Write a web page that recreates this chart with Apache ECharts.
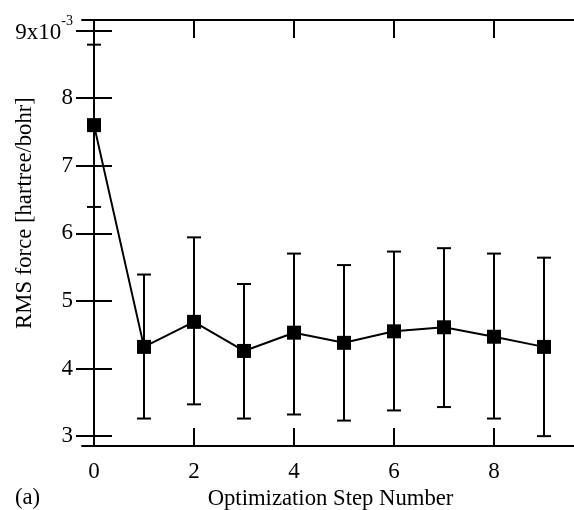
<!DOCTYPE html>
<html>
<head>
<meta charset="utf-8">
<script src="https://cdn.jsdelivr.net/npm/echarts@6/dist/echarts.min.js"></script>
<style>
  html, body { margin: 0; padding: 0; background: #fff; }
  #chart { width: 574px; height: 510px; }
</style>
</head>
<body>
<div id="chart"></div>
<script>
// ---- data ----
const steps   = [0, 1, 2, 3, 4, 5, 6, 7, 8, 9];
const rmsForce = [7.60, 4.32, 4.69, 4.26, 4.53, 4.38, 4.55, 4.61, 4.47, 4.32];
const errHigh  = [8.79, 5.39, 5.94, 5.25, 5.70, 5.53, 5.73, 5.78, 5.70, 5.64];
const errLow   = [6.39, 3.26, 3.47, 3.26, 3.32, 3.23, 3.38, 3.43, 3.26, 3.00];
const xTickValues = [0, 2, 4, 6, 8];
const yTickValues = [3, 4, 5, 6, 7, 8, 9];
const yTopLabelBase = '9x10';
const yTopLabelExp = '-3';
const xTitle = 'Optimization Step Number';
const yTitle = 'RMS force [hartree/bohr]';
const panelLabel = '(a)';

const FONT = '"Liberation Serif", "Times New Roman", serif';
const chart = echarts.init(document.getElementById('chart'), null, { renderer: 'canvas' });

const lineData = steps.map((s, i) => [s, rmsForce[i]]);
const errData = steps.map((s, i) => [s, errLow[i], errHigh[i]]);

const axisLineStyle = { color: '#000', width: 2 };
const tickCommon = { show: true, inside: true, length: 18, lineStyle: { color: '#000', width: 2 } };

const option = {
  animation: false,
  backgroundColor: '#fff',
  grid: { left: 82, right: -5, top: 20, bottom: 64, containLabel: false, outerBoundsMode: 'none' },
  xAxis: [
    {
      type: 'value', position: 'bottom', min: -0.24, max: 9.7,
      axisLine: { show: true, lineStyle: axisLineStyle },
      axisTick: Object.assign({}, tickCommon, { customValues: xTickValues }),
      axisLabel: { show: true, customValues: xTickValues, margin: 14, color: '#000', fontFamily: FONT, fontSize: 23 },
      splitLine: { show: false },
      name: xTitle, nameLocation: 'middle', nameGap: 41.5,
      nameTextStyle: { color: '#000', fontFamily: FONT, fontSize: 22.7 }
    },
    {
      type: 'value', position: 'top', min: -0.24, max: 9.7,
      axisLine: { show: true, lineStyle: axisLineStyle },
      axisTick: Object.assign({}, tickCommon, { customValues: xTickValues }),
      axisLabel: { show: false },
      splitLine: { show: false }
    }
  ],
  yAxis: [
    {
      type: 'value', position: 'left', min: 2.854, max: 9.155,
      axisLine: { show: true, lineStyle: axisLineStyle },
      axisTick: Object.assign({}, tickCommon, { customValues: yTickValues }),
      axisLabel: {
        show: true, customValues: yTickValues, margin: 9, color: '#000',
        fontFamily: FONT, fontSize: 23,
        formatter: function (v) {
          return v === 9 ? '{c|' + yTopLabelBase + '}{b|' + yTopLabelExp + '}' : '{a|' + v + '}';
        },
        rich: {
          a: { fontFamily: FONT, fontSize: 23, color: '#000', lineHeight: 23 },
          c: { fontFamily: FONT, fontSize: 23, color: '#000', lineHeight: 23, padding: [5, 0, 0, 0] },
          b: { fontFamily: FONT, fontSize: 14, color: '#000', lineHeight: 14, padding: [0, 0, 18, 0] }
        }
      },
      splitLine: { show: false }
    },
    {
      type: 'value', position: 'right', min: 2.854, max: 9.155,
      axisLine: { show: true, lineStyle: axisLineStyle },
      axisTick: Object.assign({}, tickCommon, { customValues: yTickValues }),
      axisLabel: { show: false },
      splitLine: { show: false }
    }
  ],
  graphic: [
    {
      type: 'text', x: 25, y: 213, rotation: Math.PI / 2,
      style: { text: yTitle, fill: '#000', font: '22.7px ' + FONT, textAlign: 'center', textVerticalAlign: 'middle' }
    },
    {
      type: 'text', x: 15, y: 498,
      style: { text: panelLabel, fill: '#000', font: '22.7px ' + FONT, textAlign: 'left', textVerticalAlign: 'middle' }
    }
  ],
  series: [
    {
      type: 'custom', xAxisIndex: 0, yAxisIndex: 0, z: 2,
      data: errData,
      encode: { x: 0, y: [1, 2] },
      renderItem: function (params, api) {
        const x = api.value(0), lo = api.value(1), hi = api.value(2);
        const pHi = api.coord([x, hi]);
        const pLo = api.coord([x, lo]);
        const hw = 7;
        const st = { stroke: '#000', lineWidth: 2, fill: null };
        return {
          type: 'group',
          children: [
            { type: 'line', shape: { x1: pHi[0], y1: pHi[1], x2: pLo[0], y2: pLo[1] }, style: st },
            { type: 'line', shape: { x1: pHi[0] - hw, y1: pHi[1], x2: pHi[0] + hw, y2: pHi[1] }, style: st },
            { type: 'line', shape: { x1: pLo[0] - hw, y1: pLo[1], x2: pLo[0] + hw, y2: pLo[1] }, style: st }
          ]
        };
      }
    },
    {
      type: 'line', xAxisIndex: 0, yAxisIndex: 0, z: 3,
      data: lineData,
      symbol: 'rect', symbolSize: 14, showAllSymbol: true,
      itemStyle: { color: '#000' },
      lineStyle: { color: '#000', width: 2 },
      emphasis: { disabled: true }
    }
  ]
};
chart.setOption(option);
</script>
</body>
</html>
